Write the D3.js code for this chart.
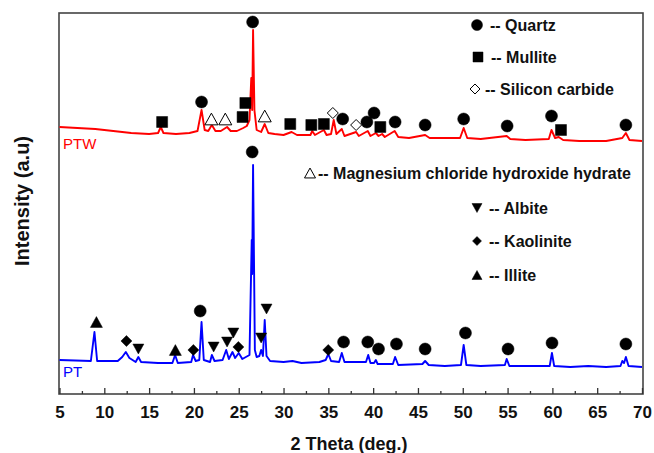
<!DOCTYPE html>
<html><head><meta charset="utf-8">
<script src="https://cdn.jsdelivr.net/npm/d3@7"></script>
<style>
body{margin:0;background:#fff}
svg{display:block}
text{font-family:"Liberation Sans",Arial,sans-serif}
</style>
</head><body>
<svg id="chart" width="654" height="453"></svg>
<script>
// ---------- data (2θ in degrees, intensity in arbitrary units) ----------
const xTickValues = [5,10,15,20,25,30,35,40,45,50,55,60,65,70];
const xMinorTicks = [7.5,12.5,17.5,22.5,27.5,32.5,37.5,42.5,47.5,52.5,57.5,62.5,67.5];

const ptwPattern = [
 [5,267],[7,266],[9,265],[11,263],[13,261],[15,260],[16.0,261],[16.3,267],[16.6,261],[18,260],[19.5,261],
 [20.4,263],[20.85,284],[21.2,264],[21.6,263],[22.0,269],[22.4,263],[23.0,263],[23.7,267],[24.1,263],[24.8,263],
 [25.5,266],[25.9,268],[26.2,274],[26.4,316],[26.5,284],[26.6,364],[26.75,284],[27.0,264],[27.5,262],[27.9,270],
 [28.3,261],[29,260],[30,259],[30.9,262],[31.5,259],[33.0,259],[33.2,263],[33.5,259],[34.5,264],[34.8,259],
 [35.3,260],[35.6,274],[35.9,260],[36.5,265],[36.8,258],[38.1,262],[38.4,258],[39.4,263],[39.7,258],[40.3,261],
 [40.6,258],[41.0,260],[41.3,257],[42.4,263],[42.8,257],[44,256],[45.8,259],[46.3,256],[48,256],[49.7,256],
 [50.1,266],[50.5,256],[52,255],[54.9,258],[55.3,255],[57,254],[59.6,255],[59.9,264],[60.3,256],[60.7,257],
 [61.2,254],[63,253],[66,253],[67.8,256],[68.2,261],[68.6,254],[70,253]
];

const ptPattern = [
 [5,34],[8.5,33],[8.9,62],[9.2,33],[11.5,33],[12.0,37],[12.4,42],[12.8,36],[13.5,32],[13.8,37],[14.1,32],
 [16,31],[17.6,31],[17.9,39],[18.2,31],[19.7,32],[19.9,39],[20.2,33],[20.6,34],[20.85,72],[21.1,34],[21.8,32],
 [22.0,39],[22.3,33],[23.2,34],[23.6,44],[23.9,35],[24.3,42],[24.6,36],[25.0,41],[25.4,35],[26.2,39],[26.45,154],
 [26.5,120],[26.6,229],[26.8,44],[27.0,37],[27.3,38],[27.5,44],[27.7,38],[27.9,74],[28.1,38],[28.5,33],[30,32],
 [31,33],[32,31],[34,32],[34.7,34],[35.0,40],[35.3,33],[36.2,32],[36.5,41],[36.8,32],[38,32],[39.2,32],[39.45,39],
 [39.7,31],[40.1,31],[40.3,34],[40.5,30],[42.2,30],[42.45,37],[42.8,29],[45.5,30],[45.8,33],[46.2,29],[48,28],
 [49.8,29],[50.1,49],[50.4,29],[52,28],[54.7,29],[54.9,35],[55.2,28],[57,28],[59.7,28],[59.95,41],[60.2,28],
 [62,27],[64,28],[66,27],[67.6,28],[67.8,33],[68.0,31],[68.2,37],[68.5,28],[70,27]
];

// phase markers: [2θ, intensity position]
const ptwQuartz = [[26.55,372],[20.85,292],[36.6,275],[39.3,272],[40.1,281],[42.45,272],[45.8,269],[50.1,275],[54.95,268],[59.9,278],[68.2,269]];
const ptwMullite = [[16.45,272],[25.43,277],[25.74,291],[30.75,270],[33.1,269],[34.5,270],[40.8,267],[60.96,264]];
const ptwSiC = [[35.5,281],[38.1,269]];
const ptwMgCl = [[21.95,275],[23.5,275],[27.9,278]];

const ptQuartz = [[26.5,242],[20.7,83],[36.7,52],[39.4,52],[40.6,45],[42.6,50],[45.8,45],[50.3,61],[55.05,45],[59.96,51],[68.2,50]];
const ptIllite = [[9.12,72],[17.93,44]];
const ptKaolinite = [[12.47,53],[19.94,44],[24.96,47],[34.99,44]];
const ptAlbite = [[13.8,45],[22.2,47],[23.7,52],[24.4,61],[27.5,56],[28.1,85]];

const legendTop = ["-- Quartz","-- Mullite","-- Silicon carbide"];
const legendMid = ["-- Magnesium chloride hydroxide hydrate"];
const legendLow = ["-- Albite","-- Kaolinite","-- Illite"];

// ---------- layout ----------
const svg = d3.select("#chart");
const L = 59, R = 643, T = 13, B = 394;
const x = d3.scaleLinear().domain([5,70]).range([L+0.5, R-1]);
const y = d3.scaleLinear().domain([0,381]).range([B, T]);

// frame
svg.append("rect").attr("x",L).attr("y",T).attr("width",R-L).attr("height",B-T)
  .attr("fill","none").attr("stroke","#444").attr("stroke-width",1.6);

// x axis ticks (inward)
const axis = d3.axisBottom(x).tickValues(xTickValues).tickSizeInner(-6).tickSizeOuter(0).tickFormat(d3.format("d"));
const gx = svg.append("g").attr("transform",`translate(0,${B})`).call(axis);
gx.select(".domain").remove();
gx.selectAll("line").attr("stroke","#333").attr("stroke-width",1.3);
gx.selectAll("text").attr("y",23.5).attr("dy",null).attr("font-size",17).attr("font-weight","bold").attr("fill","#111");
const minor = d3.axisBottom(x).tickValues(xMinorTicks).tickSizeInner(-3).tickSizeOuter(0).tickFormat("");
const gm = svg.append("g").attr("transform",`translate(0,${B})`).call(minor);
gm.select(".domain").remove();
gm.selectAll("line").attr("stroke","#333").attr("stroke-width",1.3);

// axis titles
svg.append("text").attr("x",349).attr("y",450).attr("text-anchor","middle")
  .attr("font-size",18).attr("font-weight","bold").attr("fill","#111").text("2 Theta (deg.)");
svg.append("text").attr("transform","translate(29,201) rotate(-90)").attr("text-anchor","middle")
  .attr("font-size",20).attr("font-weight","bold").attr("fill","#111").text("Intensity (a.u)");

// curves
const line = d3.line().x(d=>x(d[0])).y(d=>y(d[1]));
svg.append("path").datum(ptwPattern).attr("d",line).attr("fill","none").attr("stroke","#ff0000").attr("stroke-width",1.9).attr("stroke-linejoin","round");
svg.append("path").datum(ptPattern).attr("d",line).attr("fill","none").attr("stroke","#0000ff").attr("stroke-width",1.9).attr("stroke-linejoin","round");

svg.append("text").attr("x",63).attr("y",149).attr("font-size",15).attr("fill","#ff0000").text("PTW");
svg.append("text").attr("x",63).attr("y",377).attr("font-size",15).attr("fill","#0000ff").text("PT");

// marker shapes
const shapes = {
  circle: r => `M${-r},0A${r},${r} 0 1,0 ${r},0A${r},${r} 0 1,0 ${-r},0Z`,
  square: s => `M${-s/2},${-s/2}h${s}v${s}h${-s}Z`,
  diamond: s => `M0,${-s/2}L${s/2},0L0,${s/2}L${-s/2},0Z`,
  up: s => `M0,${-s*0.45}L${s/2},${s*0.45}L${-s/2},${s*0.45}Z`,
  down: s => `M0,${s*0.45}L${s/2},${-s*0.45}L${-s/2},${-s*0.45}Z`
};
function marks(data, shape, size, filled){
  svg.append("g").selectAll("path").data(data).join("path")
    .attr("transform",d=>`translate(${x(d[0])},${y(d[1])})`)
    .attr("d",shapes[shape](size))
    .attr("fill",filled?"#000":"#fff").attr("stroke","#000").attr("stroke-width",filled?0.5:1);
}
marks(ptwQuartz,"circle",6,true);
marks(ptwMullite,"square",11,true);
marks(ptwSiC,"diamond",11,false);
marks(ptwMgCl,"up",13,false);
marks(ptQuartz,"circle",6,true);
marks(ptIllite,"up",12,true);
marks(ptKaolinite,"diamond",11,true);
marks(ptAlbite,"down",11,true);

// legends
function legendItem(px, py, shape, size, filled, label, gap){
  svg.append("path").attr("transform",`translate(${px},${py})`).attr("d",shapes[shape](size))
    .attr("fill",filled?"#000":"#fff").attr("stroke","#000").attr("stroke-width",filled?0.5:1);
  svg.append("text").attr("x",px+gap).attr("y",py+6).attr("font-size",16).attr("font-weight","bold").attr("fill","#111").text(label);
}
legendItem(477,25,"circle",5.5,true,legendTop[0],13);
legendItem(478,57,"square",10,true,legendTop[1],13);
legendItem(475,89,"diamond",10,false,legendTop[2],10);
legendItem(310,173,"up",11,false,legendMid[0],8);
legendItem(477,208,"down",10,true,legendLow[0],12);
legendItem(477,241,"diamond",9,true,legendLow[1],12);
legendItem(477,275,"up",10,true,legendLow[2],12);
</script>
</body></html>
